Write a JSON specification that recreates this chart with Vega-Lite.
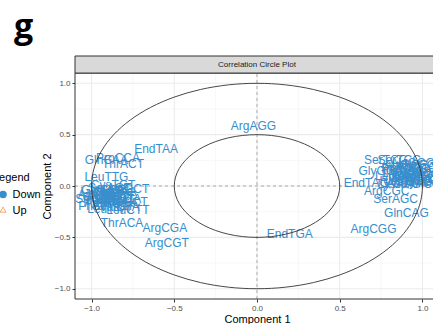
{
  "$schema": "https://vega.github.io/schema/vega-lite/v6.json",
  "width": 364,
  "height": 243,
  "autosize": "none",
  "padding": {"left": 75, "top": 56, "right": 0, "bottom": 25},
  "background": "white",
  "title": {"text": "g", "anchor": "start", "frame": "group", "font": "Open Sans", "fontSize": 34, "fontWeight": "bold", "color": "black", "baseline": "alphabetic", "offset": 22, "dx": -61, "dy": 38},
  "config": {
    "view": {"stroke": null},
    "axis": {"labelFont": "Liberation Sans", "labelFontSize": 8, "labelColor": "#4d4d4d", "tickColor": "#333333", "tickSize": 3, "labelPadding": 2, "titleFont": "Liberation Sans", "titleFontSize": 11, "titleFontWeight": "normal", "titleColor": "black", "domain": false, "grid": false},
    "legend": {"labelFont": "Liberation Sans", "titleFont": "Liberation Sans"}
  },
  "datasets": {
    "vars": [
      {"var": "EndTAA", "c1": -0.61, "c2": 0.36, "group": "Down"},
      {"var": "GlnCAA", "c1": -0.91, "c2": 0.25, "group": "Down"},
      {"var": "ProCCA", "c1": -0.84, "c2": 0.27, "group": "Down"},
      {"var": "ThrACT", "c1": -0.81, "c2": 0.215, "group": "Down"},
      {"var": "LeuTTG", "c1": -0.91, "c2": 0.09, "group": "Down"},
      {"var": "CysTGT", "c1": -0.87, "c2": 0.01, "group": "Down"},
      {"var": "SerAGT", "c1": -0.89, "c2": -0.02, "group": "Down"},
      {"var": "AlaGCT", "c1": -0.78, "c2": -0.03, "group": "Down"},
      {"var": "GlyGGT", "c1": -0.93, "c2": -0.04, "group": "Down"},
      {"var": "IleATA", "c1": -0.88, "c2": -0.05, "group": "Down"},
      {"var": "LysAAA", "c1": -0.94, "c2": -0.06, "group": "Down"},
      {"var": "GluGAA", "c1": -0.86, "c2": -0.06, "group": "Down"},
      {"var": "ValGTT", "c1": -0.88, "c2": -0.08, "group": "Down"},
      {"var": "AspGAT", "c1": -0.95, "c2": -0.09, "group": "Down"},
      {"var": "IleATT", "c1": -0.84, "c2": -0.1, "group": "Down"},
      {"var": "GlyGGA", "c1": -0.92, "c2": -0.11, "group": "Down"},
      {"var": "AsnAAT", "c1": -0.9, "c2": -0.12, "group": "Down"},
      {"var": "SerTCA", "c1": -0.97, "c2": -0.13, "group": "Down"},
      {"var": "LeuCTA", "c1": -0.83, "c2": -0.13, "group": "Down"},
      {"var": "HisCAT", "c1": -0.86, "c2": -0.14, "group": "Down"},
      {"var": "TyrTAT", "c1": -0.93, "c2": -0.15, "group": "Down"},
      {"var": "ProCCT", "c1": -0.79, "c2": -0.16, "group": "Down"},
      {"var": "AlaGCA", "c1": -0.85, "c2": -0.17, "group": "Down"},
      {"var": "ArgAGA", "c1": -0.91, "c2": -0.17, "group": "Down"},
      {"var": "PheTTT", "c1": -0.95, "c2": -0.19, "group": "Down"},
      {"var": "SerTCT", "c1": -0.87, "c2": -0.19, "group": "Down"},
      {"var": "ValGTA", "c1": -0.83, "c2": -0.2, "group": "Down"},
      {"var": "LeuTTA", "c1": -0.9, "c2": -0.22, "group": "Down"},
      {"var": "LeuCTT", "c1": -0.78, "c2": -0.23, "group": "Down"},
      {"var": "ThrACA", "c1": -0.816, "c2": -0.36, "group": "Down"},
      {"var": "ArgCGA", "c1": -0.557, "c2": -0.408, "group": "Down"},
      {"var": "ArgCGT", "c1": -0.545, "c2": -0.553, "group": "Down"},
      {"var": "ArgAGG", "c1": -0.021, "c2": 0.585, "group": "Down"},
      {"var": "EndTGA", "c1": 0.198, "c2": -0.465, "group": "Down"},
      {"var": "SerTCG", "c1": 0.78, "c2": 0.255, "group": "Down"},
      {"var": "SerTCC", "c1": 0.86, "c2": 0.25, "group": "Down"},
      {"var": "GlyGGC", "c1": 0.75, "c2": 0.15, "group": "Down"},
      {"var": "EndTAG", "c1": 0.66, "c2": 0.03, "group": "Down"},
      {"var": "ArgCGC", "c1": 0.784, "c2": -0.053, "group": "Down"},
      {"var": "SerAGC", "c1": 0.838, "c2": -0.127, "group": "Down"},
      {"var": "GlnCAG", "c1": 0.903, "c2": -0.258, "group": "Down"},
      {"var": "ArgCGG", "c1": 0.704, "c2": -0.42, "group": "Down"},
      {"var": "AlaGCC", "c1": 0.9, "c2": 0.2, "group": "Down"},
      {"var": "ProCCC", "c1": 0.95, "c2": 0.18, "group": "Down"},
      {"var": "ThrACC", "c1": 0.88, "c2": 0.14, "group": "Down"},
      {"var": "ValGTC", "c1": 0.93, "c2": 0.12, "group": "Down"},
      {"var": "LeuCTC", "c1": 0.98, "c2": 0.1, "group": "Down"},
      {"var": "IleATC", "c1": 0.9, "c2": 0.08, "group": "Down"},
      {"var": "PheTTC", "c1": 0.96, "c2": 0.06, "group": "Down"},
      {"var": "TyrTAC", "c1": 1.0, "c2": 0.04, "group": "Down"},
      {"var": "HisCAC", "c1": 0.87, "c2": 0.05, "group": "Down"},
      {"var": "AsnAAC", "c1": 0.92, "c2": 0.02, "group": "Down"},
      {"var": "AspGAC", "c1": 0.97, "c2": 0.15, "group": "Down"},
      {"var": "CysTGC", "c1": 1.02, "c2": 0.12, "group": "Down"},
      {"var": "LeuCTG", "c1": 0.85, "c2": 0.1, "group": "Down"},
      {"var": "GlyGGG", "c1": 1.0, "c2": 0.2, "group": "Down"},
      {"var": "AlaGCG", "c1": 0.94, "c2": 0.22, "group": "Down"},
      {"var": "ProCCG", "c1": 0.89, "c2": 0.17, "group": "Down"},
      {"var": "ThrACG", "c1": 0.99, "c2": 0.07, "group": "Down"},
      {"var": "ValGTG", "c1": 0.93, "c2": 0.04, "group": "Down"},
      {"var": "GluGAG", "c1": 1.03, "c2": 0.05, "group": "Down"},
      {"var": "LysAAG", "c1": 0.86, "c2": 0.02, "group": "Down"},
      {"var": "TrpTGG", "c1": 0.87, "c2": 0.18, "group": "Down"},
      {"var": "MetATG", "c1": 0.95, "c2": 0.09, "group": "Down"}
    ],
    "circles": [
      {"ring": "outer", "i": 0, "cx": 1, "cy": 0},
      {"ring": "outer", "i": 1, "cx": 0.9848, "cy": 0.1736},
      {"ring": "outer", "i": 2, "cx": 0.9397, "cy": 0.342},
      {"ring": "outer", "i": 3, "cx": 0.866, "cy": 0.5},
      {"ring": "outer", "i": 4, "cx": 0.766, "cy": 0.6428},
      {"ring": "outer", "i": 5, "cx": 0.6428, "cy": 0.766},
      {"ring": "outer", "i": 6, "cx": 0.5, "cy": 0.866},
      {"ring": "outer", "i": 7, "cx": 0.342, "cy": 0.9397},
      {"ring": "outer", "i": 8, "cx": 0.1736, "cy": 0.9848},
      {"ring": "outer", "i": 9, "cx": 0, "cy": 1},
      {"ring": "outer", "i": 10, "cx": -0.1736, "cy": 0.9848},
      {"ring": "outer", "i": 11, "cx": -0.342, "cy": 0.9397},
      {"ring": "outer", "i": 12, "cx": -0.5, "cy": 0.866},
      {"ring": "outer", "i": 13, "cx": -0.6428, "cy": 0.766},
      {"ring": "outer", "i": 14, "cx": -0.766, "cy": 0.6428},
      {"ring": "outer", "i": 15, "cx": -0.866, "cy": 0.5},
      {"ring": "outer", "i": 16, "cx": -0.9397, "cy": 0.342},
      {"ring": "outer", "i": 17, "cx": -0.9848, "cy": 0.1736},
      {"ring": "outer", "i": 18, "cx": -1, "cy": 0},
      {"ring": "outer", "i": 19, "cx": -0.9848, "cy": -0.1736},
      {"ring": "outer", "i": 20, "cx": -0.9397, "cy": -0.342},
      {"ring": "outer", "i": 21, "cx": -0.866, "cy": -0.5},
      {"ring": "outer", "i": 22, "cx": -0.766, "cy": -0.6428},
      {"ring": "outer", "i": 23, "cx": -0.6428, "cy": -0.766},
      {"ring": "outer", "i": 24, "cx": -0.5, "cy": -0.866},
      {"ring": "outer", "i": 25, "cx": -0.342, "cy": -0.9397},
      {"ring": "outer", "i": 26, "cx": -0.1736, "cy": -0.9848},
      {"ring": "outer", "i": 27, "cx": 0, "cy": -1},
      {"ring": "outer", "i": 28, "cx": 0.1736, "cy": -0.9848},
      {"ring": "outer", "i": 29, "cx": 0.342, "cy": -0.9397},
      {"ring": "outer", "i": 30, "cx": 0.5, "cy": -0.866},
      {"ring": "outer", "i": 31, "cx": 0.6428, "cy": -0.766},
      {"ring": "outer", "i": 32, "cx": 0.766, "cy": -0.6428},
      {"ring": "outer", "i": 33, "cx": 0.866, "cy": -0.5},
      {"ring": "outer", "i": 34, "cx": 0.9397, "cy": -0.342},
      {"ring": "outer", "i": 35, "cx": 0.9848, "cy": -0.1736},
      {"ring": "inner", "i": 0, "cx": 0.5, "cy": 0},
      {"ring": "inner", "i": 1, "cx": 0.4924, "cy": 0.0868},
      {"ring": "inner", "i": 2, "cx": 0.4698, "cy": 0.171},
      {"ring": "inner", "i": 3, "cx": 0.433, "cy": 0.25},
      {"ring": "inner", "i": 4, "cx": 0.383, "cy": 0.3214},
      {"ring": "inner", "i": 5, "cx": 0.3214, "cy": 0.383},
      {"ring": "inner", "i": 6, "cx": 0.25, "cy": 0.433},
      {"ring": "inner", "i": 7, "cx": 0.171, "cy": 0.4698},
      {"ring": "inner", "i": 8, "cx": 0.0868, "cy": 0.4924},
      {"ring": "inner", "i": 9, "cx": 0, "cy": 0.5},
      {"ring": "inner", "i": 10, "cx": -0.0868, "cy": 0.4924},
      {"ring": "inner", "i": 11, "cx": -0.171, "cy": 0.4698},
      {"ring": "inner", "i": 12, "cx": -0.25, "cy": 0.433},
      {"ring": "inner", "i": 13, "cx": -0.3214, "cy": 0.383},
      {"ring": "inner", "i": 14, "cx": -0.383, "cy": 0.3214},
      {"ring": "inner", "i": 15, "cx": -0.433, "cy": 0.25},
      {"ring": "inner", "i": 16, "cx": -0.4698, "cy": 0.171},
      {"ring": "inner", "i": 17, "cx": -0.4924, "cy": 0.0868},
      {"ring": "inner", "i": 18, "cx": -0.5, "cy": 0},
      {"ring": "inner", "i": 19, "cx": -0.4924, "cy": -0.0868},
      {"ring": "inner", "i": 20, "cx": -0.4698, "cy": -0.171},
      {"ring": "inner", "i": 21, "cx": -0.433, "cy": -0.25},
      {"ring": "inner", "i": 22, "cx": -0.383, "cy": -0.3214},
      {"ring": "inner", "i": 23, "cx": -0.3214, "cy": -0.383},
      {"ring": "inner", "i": 24, "cx": -0.25, "cy": -0.433},
      {"ring": "inner", "i": 25, "cx": -0.171, "cy": -0.4698},
      {"ring": "inner", "i": 26, "cx": -0.0868, "cy": -0.4924},
      {"ring": "inner", "i": 27, "cx": 0, "cy": -0.5},
      {"ring": "inner", "i": 28, "cx": 0.0868, "cy": -0.4924},
      {"ring": "inner", "i": 29, "cx": 0.171, "cy": -0.4698},
      {"ring": "inner", "i": 30, "cx": 0.25, "cy": -0.433},
      {"ring": "inner", "i": 31, "cx": 0.3214, "cy": -0.383},
      {"ring": "inner", "i": 32, "cx": 0.383, "cy": -0.3214},
      {"ring": "inner", "i": 33, "cx": 0.433, "cy": -0.25},
      {"ring": "inner", "i": 34, "cx": 0.4698, "cy": -0.171},
      {"ring": "inner", "i": 35, "cx": 0.4924, "cy": -0.0868}
    ],
    "majorGrid": [{"v": -1}, {"v": -0.5}, {"v": 0}, {"v": 0.5}, {"v": 1}],
    "minorGrid": [{"v": -0.75}, {"v": -0.25}, {"v": 0.25}, {"v": 0.75}],
    "one": [{"label": "Correlation Circle Plot"}]
  },
  "layer": [
    {
      "data": {"name": "minorGrid"},
      "mark": {"type": "rule", "color": "#f2f2f2", "strokeWidth": 0.6},
      "encoding": {
        "x": {"field": "v", "type": "quantitative", "scale": {"domain": [-1.1, 1.1], "nice": false, "zero": false}, "axis": {"values": [-1, -0.5, 0, 0.5, 1], "format": ".1f", "title": "Component 1", "titlePadding": 1}},
        "y": {"datum": -1.1, "type": "quantitative", "scale": {"domain": [-1.1, 1.266], "nice": false, "zero": false}, "axis": {"values": [-1, -0.5, 0, 0.5, 1], "format": ".1f", "title": "Component 2", "titlePadding": 2, "titleY": 130}},
        "y2": {"datum": 1.1}
      }
    },
    {
      "data": {"name": "minorGrid"},
      "mark": {"type": "rule", "color": "#f2f2f2", "strokeWidth": 0.6},
      "encoding": {
        "y": {"field": "v", "type": "quantitative"},
        "x": {"datum": -1.1, "type": "quantitative"},
        "x2": {"datum": 1.1}
      }
    },
    {
      "data": {"name": "majorGrid"},
      "mark": {"type": "rule", "color": "#ebebeb", "strokeWidth": 1.1},
      "encoding": {
        "x": {"field": "v", "type": "quantitative"},
        "y": {"datum": -1.1, "type": "quantitative"},
        "y2": {"datum": 1.1}
      }
    },
    {
      "data": {"name": "majorGrid"},
      "mark": {"type": "rule", "color": "#ebebeb", "strokeWidth": 1.1},
      "encoding": {
        "y": {"field": "v", "type": "quantitative"},
        "x": {"datum": -1.1, "type": "quantitative"},
        "x2": {"datum": 1.1}
      }
    },
    {
      "data": {"name": "one"},
      "mark": {"type": "rule", "color": "#8c8c8c", "strokeWidth": 0.7, "strokeDash": [3, 3]},
      "encoding": {
        "x": {"datum": 0, "type": "quantitative"},
        "y": {"datum": -1.1, "type": "quantitative"},
        "y2": {"datum": 1.1}
      }
    },
    {
      "data": {"name": "one"},
      "mark": {"type": "rule", "color": "#8c8c8c", "strokeWidth": 0.7, "strokeDash": [3, 3]},
      "encoding": {
        "y": {"datum": 0, "type": "quantitative"},
        "x": {"datum": -1.1, "type": "quantitative"},
        "x2": {"datum": 1.1}
      }
    },
    {
      "data": {"name": "vars"},
      "mark": {"type": "text", "font": "Liberation Sans", "fontSize": 12, "align": "center", "baseline": "middle"},
      "encoding": {
        "x": {"field": "c1", "type": "quantitative"},
        "y": {"field": "c2", "type": "quantitative"},
        "text": {"field": "var"},
        "color": {"field": "group", "type": "nominal", "title": "Legend", "scale": {"domain": ["Down", "Up"], "range": ["#388ECC", "#F68B33"]}}
      }
    },
    {
      "data": {"name": "circles"},
      "mark": {"type": "line", "color": "#333333", "strokeWidth": 0.9, "interpolate": "cardinal-closed"},
      "encoding": {
        "x": {"field": "cx", "type": "quantitative"},
        "y": {"field": "cy", "type": "quantitative"},
        "detail": {"field": "ring"},
        "order": {"field": "i", "type": "quantitative"}
      }
    },
    {
      "data": {"name": "vars"},
      "mark": {"type": "point", "opacity": 0, "filled": true},
      "encoding": {
        "x": {"field": "c1", "type": "quantitative"},
        "y": {"field": "c2", "type": "quantitative"},
        "color": {"field": "group", "type": "nominal", "title": "Legend",
          "legend": {"orient": "none", "legendX": -82, "legendY": 116, "title": "Legend", "titleFontSize": 11, "titleFontWeight": "normal", "titleColor": "black", "titlePadding": 6, "labelFontSize": 11, "labelColor": "black", "symbolSize": 55, "symbolOffset": 4.6, "labelOffset": 4, "rowPadding": 4, "symbolOpacity": 1, "values": ["Down", "Up"],
            "encode": {"symbols": {"update": {"opacity": {"value": 1}}}}}},
        "shape": {"field": "group", "type": "nominal", "title": "Legend", "scale": {"domain": ["Down", "Up"], "range": ["circle", "M0,-1.1L0.95,0.55L-0.95,0.55Z M0,-0.72L-0.64,0.37L0.64,0.37Z"]}}
      }
    },
    {
      "data": {"name": "one"},
      "mark": {"type": "rect", "fillOpacity": 0, "stroke": "#333333", "strokeWidth": 1},
      "encoding": {
        "x": {"datum": -1.1, "type": "quantitative"},
        "x2": {"datum": 1.1},
        "y": {"datum": -1.1, "type": "quantitative"},
        "y2": {"datum": 1.1}
      }
    },
    {
      "data": {"name": "one"},
      "mark": {"type": "rect", "fill": "#d9d9d9", "stroke": "#333333", "strokeWidth": 1},
      "encoding": {
        "x": {"datum": -1.1, "type": "quantitative"},
        "x2": {"datum": 1.1},
        "y": {"datum": 1.1, "type": "quantitative"},
        "y2": {"datum": 1.266}
      }
    },
    {
      "data": {"name": "one"},
      "mark": {"type": "text", "font": "Liberation Sans", "fontSize": 8, "color": "#1a1a1a", "align": "center", "baseline": "middle"},
      "encoding": {
        "x": {"datum": 0, "type": "quantitative"},
        "y": {"datum": 1.183, "type": "quantitative"},
        "text": {"field": "label"}
      }
    }
  ]
}
